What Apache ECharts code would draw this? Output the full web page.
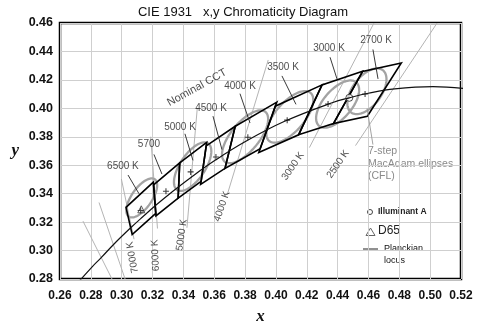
<!DOCTYPE html>
<html>
<head>
<meta charset="utf-8">
<script src="https://cdn.jsdelivr.net/npm/echarts@6/dist/echarts.min.js"></script>
<style>
  html, body { margin: 0; padding: 0; background: #fff; }
  #chart { width: 486px; height: 330px; }
</style>
</head>
<body>
<div id="chart"></div>
<script>
// Axis ticks
const xTicks = [0.26, 0.28, 0.30, 0.32, 0.34, 0.36, 0.38, 0.40, 0.42, 0.44, 0.46, 0.48, 0.50, 0.52];
const yTicks = [0.28, 0.30, 0.32, 0.34, 0.36, 0.38, 0.40, 0.42, 0.44, 0.46];

// Planckian locus, 12000 K down to 2000 K
const locusX = [0.2720, 0.2807, 0.2867, 0.2952, 0.3064, 0.3135, 0.3221, 0.3324, 0.3451, 0.3608, 0.3805, 0.4053, 0.4369, 0.4476, 0.4599, 0.4770, 0.5018, 0.5267];
const locusY = [0.2779, 0.2884, 0.2950, 0.3048, 0.3166, 0.3236, 0.3318, 0.3410, 0.3516, 0.3636, 0.3768, 0.3907, 0.4041, 0.4074, 0.4106, 0.4137, 0.4153, 0.4133];

// Nominal CCT quadrangles (four corners each) and their centres
const quadNames = ['6500 K', '5700', '5000 K', '4500 K', '4000 K', '3500 K', '3000 K', '2700 K'];
const quadCenterX = [0.3123, 0.3287, 0.3447, 0.3611, 0.3818, 0.4073, 0.4338, 0.4578];
const quadCenterY = [0.3282, 0.3417, 0.3553, 0.3658, 0.3797, 0.3917, 0.4030, 0.4101];
const quadCornerX = [
  [0.3205, 0.3028, 0.3068, 0.3221],
  [0.3376, 0.3207, 0.3222, 0.3366],
  [0.3551, 0.3376, 0.3366, 0.3515],
  [0.3736, 0.3548, 0.3512, 0.3670],
  [0.4006, 0.3736, 0.3670, 0.3898],
  [0.4299, 0.3996, 0.3889, 0.4147],
  [0.4562, 0.4299, 0.4147, 0.4373],
  [0.4813, 0.4562, 0.4373, 0.4593]
];
const quadCornerY = [
  [0.3481, 0.3304, 0.3113, 0.3261],
  [0.3616, 0.3462, 0.3243, 0.3369],
  [0.3760, 0.3616, 0.3369, 0.3487],
  [0.3874, 0.3736, 0.3465, 0.3578],
  [0.4044, 0.3874, 0.3578, 0.3716],
  [0.4165, 0.4015, 0.3690, 0.3814],
  [0.4260, 0.4165, 0.3814, 0.3893],
  [0.4319, 0.4260, 0.3893, 0.3944]
];

// 7-step MacAdam ellipses (CFL): centre, semi-axes, tilt in degrees
const ellipseX = [0.313, 0.346, 0.380, 0.409, 0.440, 0.459];
const ellipseY = [0.337, 0.359, 0.380, 0.394, 0.403, 0.412];
const ellipseA = [0.0156, 0.0192, 0.0219, 0.0216, 0.0195, 0.0181];
const ellipseB = [0.0067, 0.0083, 0.0094, 0.0097, 0.0095, 0.0096];
const ellipseTilt = [58.2, 59.4, 54.0, 52.6, 53.1, 57.3];

// Isotemperature lines (end points)
const isoNames = ['', '', '7000 K', '6000 K', '5000 K', '4000 K', '3000 K', '2500 K'];
const isoX1 = [0.2749, 0.2853, 0.2998, 0.3188, 0.3490, 0.3950, 0.4636, 0.5045];
const isoY1 = [0.3207, 0.3338, 0.3503, 0.3800, 0.4000, 0.4340, 0.4600, 0.4600];
const isoX2 = [0.2937, 0.3022, 0.3080, 0.3232, 0.3423, 0.3685, 0.4217, 0.4516];
const isoY2 = [0.2800, 0.2800, 0.3080, 0.3155, 0.3160, 0.3395, 0.3724, 0.3738];

// Reference illuminants
const illuminantA = [0.4476, 0.4074];
const illuminantD65 = [0.3127, 0.3290];

const FONT = '"Liberation Sans", Arial, sans-serif';
const SERIF = '"Liberation Serif", "Times New Roman", serif';

// Label anchors (data space) and leader lines for the quadrangle names
const quadLabelAt = [[0.3008, 0.3593], [0.3177, 0.3745], [0.3378, 0.3869], [0.3579, 0.4000],
                     [0.3767, 0.4152], [0.4046, 0.4290], [0.4344, 0.4421], [0.4649, 0.4476]];
const quadLeaders = [[0.3041, 0.3531, 0.3112, 0.3400], [0.3209, 0.3676, 0.3261, 0.3538],
                     [0.3410, 0.3821, 0.3462, 0.3634], [0.3592, 0.3945, 0.3650, 0.3710],
                     [0.3767, 0.4103, 0.3832, 0.3897], [0.4039, 0.4228, 0.4130, 0.4028],
                     [0.4351, 0.4359, 0.4396, 0.4207], [0.4629, 0.4414, 0.4662, 0.4207]];
const isoLabelAt = [null, null, [0.3070, 0.2952, 100], [0.3219, 0.2966, 93], [0.3389, 0.3110, 82],
                    [0.3650, 0.3310, 71], [0.4111, 0.3593, 55], [0.4403, 0.3607, 55]];

const chart = echarts.init(document.getElementById('chart'), null, { renderer: 'canvas' });

function segRender(color, width) {
  return function (params, api) {
    const p1 = api.coord([api.value(0), api.value(1)]);
    const p2 = api.coord([api.value(2), api.value(3)]);
    return { type: 'line', shape: { x1: p1[0], y1: p1[1], x2: p2[0], y2: p2[1] },
             style: { stroke: color, lineWidth: width } };
  };
}

const labelData = [];
quadNames.forEach((n, i) => {
  labelData.push({ value: quadLabelAt[i], label: { formatter: n, fontSize: 10 } });
});
isoNames.forEach((n, i) => {
  if (!n) return;
  const a = isoLabelAt[i];
  labelData.push({ value: [a[0], a[1]], label: { formatter: n, fontSize: 10, rotate: a[2] } });
});
labelData.push({ value: [0.3488, 0.4145], label: { formatter: 'Nominal CCT', fontSize: 11, rotate: 29 } });

const plusPath = 'path://M-0.18,-1H0.18V-0.18H1V0.18H0.18V1H-0.18V0.18H-1V-0.18H-0.18Z';

const option = {
  animation: false,
  backgroundColor: '#fff',
  title: {
    text: 'CIE 1931   x,y Chromaticity Diagram',
    left: 'center', top: 1,
    textStyle: { fontFamily: FONT, fontSize: 13, fontWeight: 'normal', color: '#111' }
  },
  grid: { left: 60, right: 25, top: 23, bottom: 46, show: true, borderColor: '#000', borderWidth: 2.5, backgroundColor: 'transparent' },
  xAxis: {
    type: 'value', min: xTicks[0], max: xTicks[xTicks.length - 1], interval: 0.02,
    name: 'x', nameLocation: 'middle', nameGap: 29,
    nameTextStyle: { fontFamily: SERIF, fontStyle: 'italic', fontWeight: 'bold', fontSize: 17, color: '#111' },
    axisLine: { show: false }, axisTick: { show: false },
    axisLabel: { margin: 11, fontFamily: FONT, fontWeight: 'bold', fontSize: 12, color: '#111', formatter: v => v.toFixed(2) },
    splitLine: { show: true, lineStyle: { color: '#cfcfcf', width: 1 } }
  },
  yAxis: {
    type: 'value', min: yTicks[0], max: yTicks[yTicks.length - 1], interval: 0.02,
    name: 'y', nameLocation: 'middle', nameGap: 41, nameRotate: 0,
    nameTextStyle: { fontFamily: SERIF, fontStyle: 'italic', fontWeight: 'bold', fontSize: 17, color: '#111' },
    axisLine: { show: false }, axisTick: { show: false },
    axisLabel: { margin: 7, fontFamily: FONT, fontWeight: 'bold', fontSize: 12.5, color: '#111', formatter: v => v.toFixed(2) },
    splitLine: { show: true, lineStyle: { color: '#cfcfcf', width: 1 } }
  },
  series: [
    { // isotemperature lines
      type: 'custom', clip: true, silent: true,
      renderItem: segRender('#b4b4b4', 1),
      data: isoX1.map((x, i) => [x, isoY1[i], isoX2[i], isoY2[i]])
    },
    { // MacAdam ellipses
      type: 'custom', clip: true, silent: true,
      renderItem: function (params, api) {
        const cx = api.value(0), cy = api.value(1), a = api.value(2), b = api.value(3);
        const t = api.value(4) * Math.PI / 180;
        const pts = [];
        for (let k = 0; k < 96; k++) {
          const s = k / 96 * Math.PI * 2;
          pts.push(api.coord([cx + a * Math.cos(s) * Math.cos(t) - b * Math.sin(s) * Math.sin(t),
                              cy + a * Math.cos(s) * Math.sin(t) + b * Math.sin(s) * Math.cos(t)]));
        }
        return { type: 'polygon', shape: { points: pts }, style: { fill: 'none', stroke: '#a3a3a3', lineWidth: 2.3 } };
      },
      data: ellipseX.map((x, i) => [x, ellipseY[i], ellipseA[i], ellipseB[i], ellipseTilt[i]])
    },
    { // Planckian locus
      type: 'line', data: locusX.map((x, i) => [x, locusY[i]]), smooth: 0.4, showSymbol: false,
      lineStyle: { color: '#111', width: 1.2 }, clip: true, silent: true
    },
    { // quadrangles
      type: 'custom', clip: true, silent: true,
      renderItem: function (params, api) {
        const i = api.value(2);
        const pts = quadCornerX[i].map((x, k) => api.coord([x, quadCornerY[i][k]]));
        return { type: 'polygon', shape: { points: pts }, style: { fill: 'none', stroke: '#000', lineWidth: 1.6 } };
      },
      data: quadCenterX.map((x, i) => [x, quadCenterY[i], i])
    },
    { // leader lines
      type: 'custom', clip: true, silent: true,
      renderItem: segRender('#222', 0.9),
      data: quadLeaders
    },
    { // leader to ellipse note
      type: 'custom', clip: true, silent: true,
      renderItem: segRender('#999', 0.9),
      data: [[0.4591, 0.4000, 0.4629, 0.3745]]
    },
    { // quadrangle centres
      type: 'scatter', symbol: plusPath, symbolSize: 6, silent: true,
      itemStyle: { color: '#111' },
      data: quadCenterX.map((x, i) => [x, quadCenterY[i]])
    },
    { // Illuminant A
      type: 'scatter', symbol: 'circle', symbolSize: 7, silent: true,
      itemStyle: { color: '#fff', borderColor: '#222', borderWidth: 1 },
      data: [illuminantA]
    },
    { // D65
      type: 'scatter', symbol: 'triangle', symbolSize: 7, silent: true,
      itemStyle: { color: 'rgba(255,255,255,0)', borderColor: '#333', borderWidth: 1 },
      data: [illuminantD65]
    },
    { // text annotations
      type: 'scatter', symbolSize: 0, silent: true,
      label: { show: true, position: 'inside', color: '#222', fontFamily: FONT },
      data: labelData
    }
  ],
  graphic: [
    { type: 'text', left: 368, top: 145, style: { text: '7-step\nMacAdam ellipses\n(CFL)', fontFamily: FONT, fontSize: 10.5, lineHeight: 12.5, fill: '#8a8a8a' } },
    { type: 'circle', shape: { cx: 370, cy: 212, r: 2.5 }, style: { fill: '#fff', stroke: '#444', lineWidth: 1 } },
    { type: 'text', left: 378, top: 207, style: { text: 'Illuminant A', fontFamily: FONT, fontSize: 8.5, fontWeight: 'bold', fill: '#222' } },
    { type: 'polygon', shape: { points: [[370.5, 228], [366, 235.5], [375, 235.5]] }, style: { fill: 'none', stroke: '#666', lineWidth: 1 } },
    { type: 'text', left: 378, top: 225, style: { text: 'D65', fontFamily: FONT, fontSize: 12, fill: '#222' } },
    { type: 'line', shape: { x1: 363, y1: 249, x2: 378, y2: 249 }, style: { stroke: '#222', lineWidth: 1 } },
    { type: 'text', left: 384, top: 243, style: { text: 'Planckian\nlocus', fontFamily: FONT, fontSize: 9, lineHeight: 11.7, fill: '#111' } }
  ]
};

chart.setOption(option);
</script>
</body>
</html>
